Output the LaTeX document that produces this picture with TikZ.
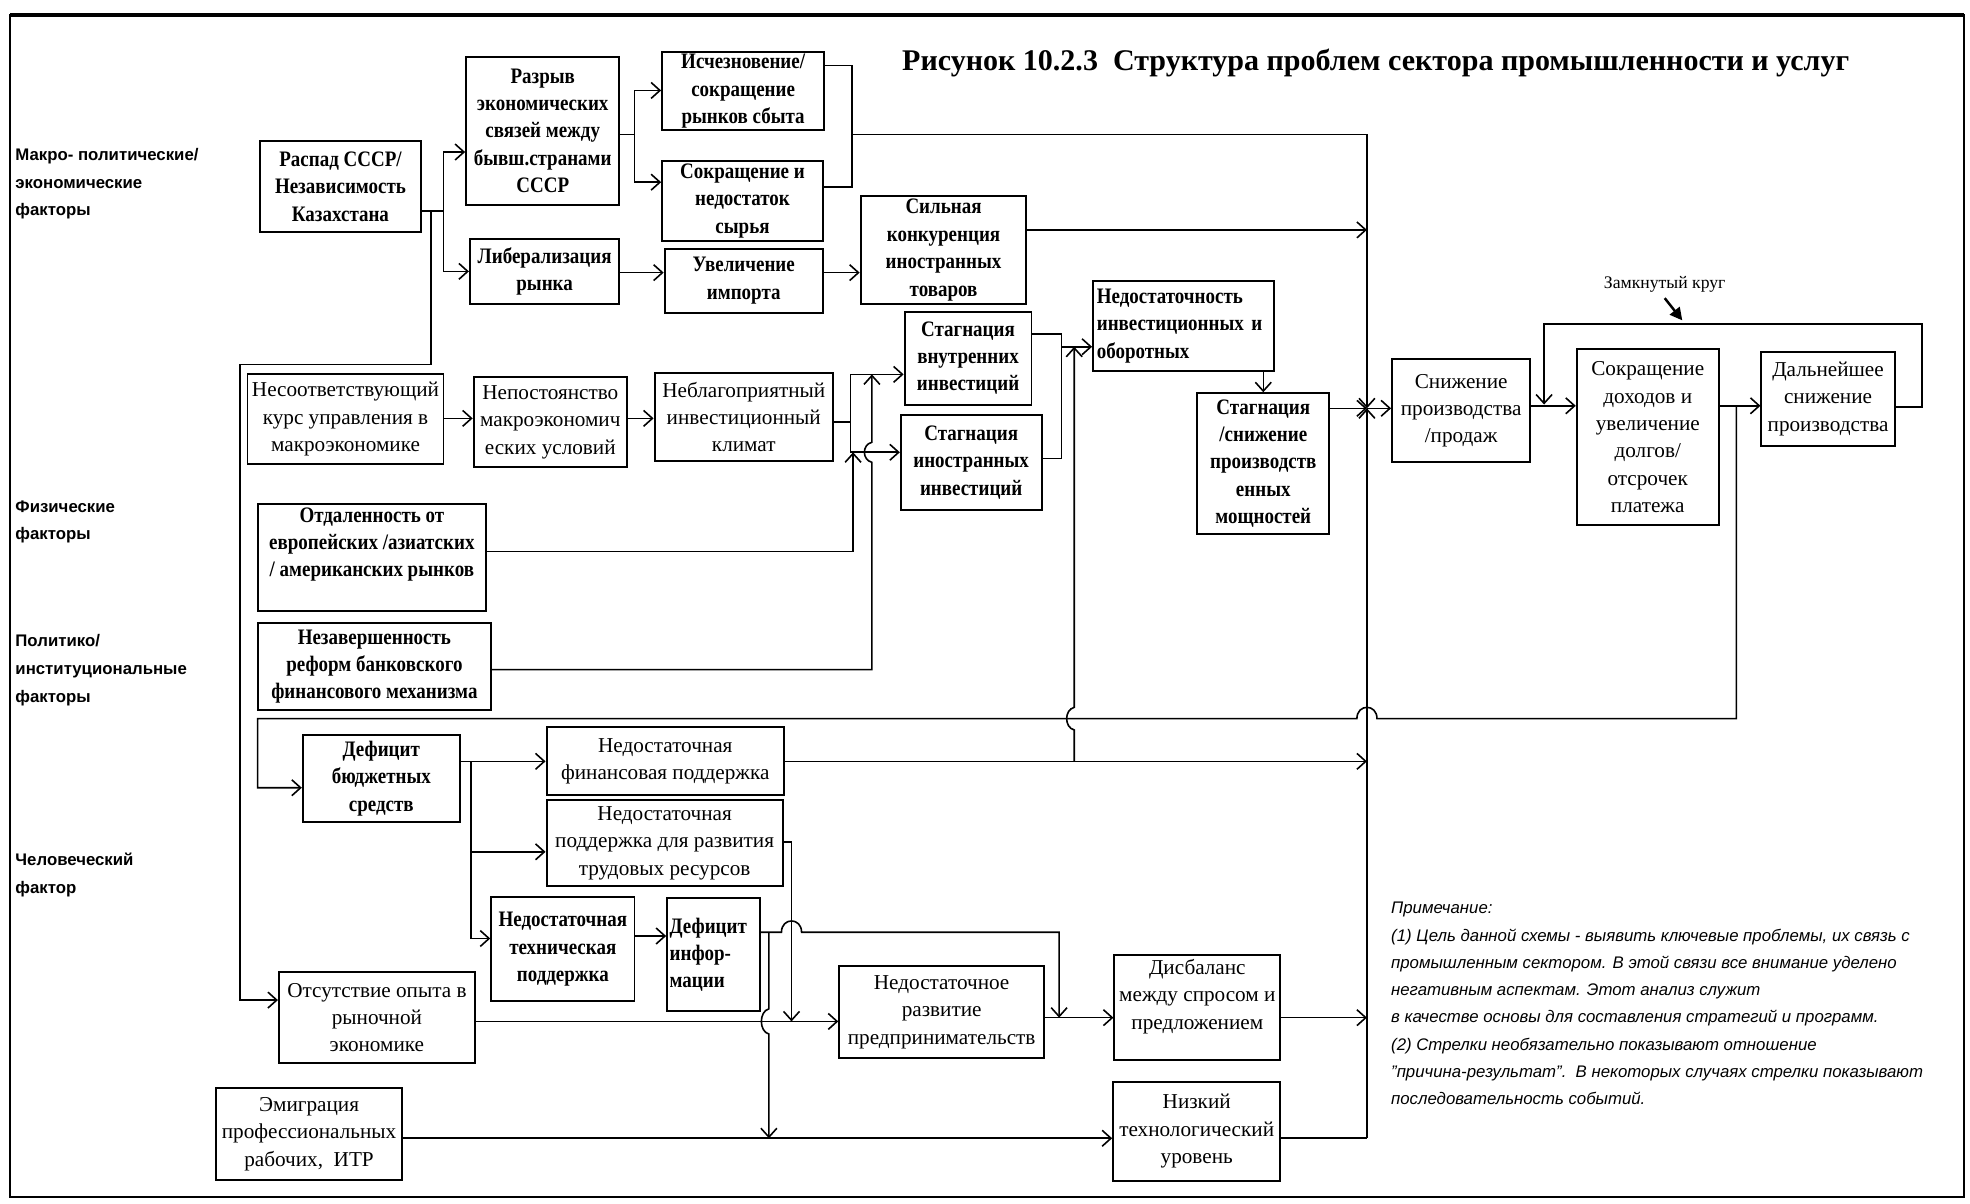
\documentclass[tikz,border=0pt]{standalone}
\usepackage{fontspec}
\setmainfont{Liberation Serif}
\setsansfont{Liberation Sans}
\newfontfamily\narrowserif{Liberation Serif}[FakeStretch=0.86]
\usetikzlibrary{arrows.meta,positioning,calc}

\begin{document}
\begin{tikzpicture}[x=0.025cm,y=-0.025cm,
    box/.style={draw,line width=1.1pt,inner sep=1pt,align=center,
      font=\narrowserif\fontsize{12.5}{15.5}\selectfont\bfseries},
    boxr/.style={box,font=\fontsize{12}{15.5}\selectfont},
    sz/.style 2 args={minimum width=#1*0.025cm,minimum height=#2*0.025cm},
    line/.style={line width=0.9pt},
    >={Straight Barb[length=5pt,width=9pt]},
    sidelbl/.style={anchor=north west,align=left,inner sep=0pt,
      font=\sffamily\bfseries\fontsize{9.5}{15.6}\selectfont}]
	\useasboundingbox (0,0) rectangle (1568,958);
	\draw[line width=1.3pt] (8,12) rectangle (1563,953);
	\draw[line width=2pt] (8,12) -- (1563,12);

	\node[font=\bfseries\fontsize{17}{20}\selectfont] (title) at (1095,50)
		{Рисунок 10.2.3\ \ Структура проблем сектора промышленности и услуг};

	% side labels
	\node[sidelbl] (lmakro) at (12,118) {Макро- политические/\\экономические\\факторы};
	\node[sidelbl] (lfiz) at (12,398) {Физические\\факторы};
	\node[sidelbl] (lpolit) at (12,505) {Политико/\\институциональные\\факторы};
	\node[sidelbl] (lchel) at (12,679) {Человеческий\\фактор};

	% boxes
	\node[box, sz={128}{73}] (raspad) at (271,148.5) {Распад СССР/\\Независимость\\Казахстана};
	\node[box, sz={122}{118}] (razryv) at (432,104) {Разрыв\\экономических\\связей между\\бывш.странами\\СССР};
	\node[box, sz={129}{61}] (ischez) at (591.5,72.5) {Исчезновение/\\сокращение\\рынков сбыта};
	\node[box, sz={128}{64}] (syrie) at (591,160) {Сокращение и\\недостаток\\сырья};
	\node[box, sz={119}{52}] (liber) at (433.5,216) {Либерализация\\рынка};
	\node[box, sz={126}{51}] (import) at (592,223.5) {Увеличение\\импорта};
	\node[box, sz={132}{86}] (konkur) at (751,199) {Сильная\\конкуренция\\иностранных\\товаров};
	\node[box, sz={101}{74}] (stagvn) at (770.5,285) {Стагнация\\внутренних\\инвестиций};
	\node[box, sz={112}{76}] (stagin) at (773,368) {Стагнация\\иностранных\\инвестиций};
	\node[box, sz={144}{71}, text width=138*0.025cm, align=left] (nedinv) at (942,259.5) {Недостаточность\\инвестиционных и\\оборотных};
	\node[box, sz={105}{112}] (stagpr) at (1005.5,369) {Стагнация\\/снижение\\производств\\енных\\мощностей};
	\node[boxr, sz={110}{82}] (snizh) at (1163,327) {Снижение\\производства\\/продаж};
	\node[boxr, sz={113}{140}] (sokr) at (1311.5,348) {Сокращение\\доходов и\\увеличение\\долгов/\\отсрочек\\платежа};
	\node[boxr, sz={106}{75}] (daln) at (1455,317.5) {Дальнейшее\\снижение\\производства};
	\node[boxr, sz={156}{71}] (nesoot) at (275,333.5) {Несоответствующий\\курс управления в\\макроэкономике};
	\node[boxr, sz={122}{72}] (nepost) at (438,336) {Непостоянство\\макроэкономич\\еских условий};
	\node[boxr, sz={142}{70}] (neblag) at (592,332) {Неблагоприятный\\инвестиционный\\климат};
	\node[box, sz={182}{85}, text depth=17pt] (otdal) at (296,443.5) {Отдаленность от\\европейских /азиатских\\/ американских рынков};
	\node[box, sz={186}{69}] (nezav) at (298,530.5) {Незавершенность\\реформ банковского\\финансового механизма};
	\node[box, sz={125}{69}] (defbud) at (303.5,619.5) {Дефицит\\бюджетных\\средств};
	\node[boxr, sz={189}{54}] (nedfin) at (529.5,606) {Недостаточная\\финансовая поддержка};
	\node[boxr, sz={188}{68}] (nedtrud) at (529,671) {Недостаточная\\поддержка для развития\\трудовых ресурсов};
	\node[box, sz={114}{83}] (nedteh) at (448,755.5) {Недостаточная\\техническая\\поддержка};
	\node[box, sz={74}{90}, text width=70*0.025cm, align=left] (definf) at (568,760) {Дефицит\\инфор-\\мации};
	\node[boxr, sz={156}{72}] (otsut) at (300,810) {Отсутствие опыта в\\рыночной\\экономике};
	\node[boxr, sz={163}{73}] (nedpred) at (749.5,805.5) {Недостаточное\\развитие\\предпринимательств};
	\node[boxr, sz={132}{84}, text depth=15pt] (disbal) at (953,802) {Дисбаланс\\между спросом и\\предложением};
	\node[boxr, sz={148}{73}] (emigr) at (246,902.5) {Эмиграция\\профессиональных\\рабочих,\ \ ИТР};
	\node[boxr, sz={133}{79}] (nizk) at (952.5,900.5) {Низкий\\технологический\\уровень};

	\node[font=\fontsize{10}{12}\selectfont] (krug) at (1325,226) {Замкнутый круг};
	\coordinate (krugtip) at (1339,255);
	\draw[line width=1.4pt,-{Triangle[length=7pt,width=7pt]}] (krug.south) -- (krugtip);

	\node[anchor=north west,align=left,inner sep=0pt,
		font=\sffamily\itshape\fontsize{9.5}{15.4}\selectfont] (note) at (1107,718)
		{Примечание:\\
		(1) Цель данной схемы - выявить ключевые проблемы, их связь с\\
		промышленным сектором. В этой связи все внимание уделено\\
		негативным аспектам. Этот анализ служит\\
		в качестве основы для составления стратегий и программ.\\
		(2) Стрелки необязательно показывают отношение\\
		"причина-результат".\ \ В некоторых случаях стрелки показывают\\
		последовательность событий.};

	% junctions
	\coordinate (jc) at (1088,325);

	\begin{scope}[line]
		% macro factors
		\draw (raspad.east |- 0,168) -- (353,168);
		\draw[->] (353,168) |- (razryv.west |- 0,121);
		\draw[->] (353,168) |- (liber.west |- 0,216);
		\draw[->] (343,168) -- (343,290) -- (191,290) |- (otsut.west |- 0,796);
		\draw (razryv.east |- 0,107) -- (505,107);
		\draw[->] (505,107) |- (ischez.west |- 0,72);
		\draw[->] (505,107) |- (syrie.west |- 0,145);
		\draw (ischez.east |- 0,52) -| (678,149) -- (syrie.east |- 0,149);
		\draw (678,107) -- (1088,107);
		\draw[->] (1088,107) -- (jc);
		\draw[->] (konkur.east |- 0,183) -- (1088,183);
		\draw[->] (liber.east |- 0,217) -- (import.west |- 0,217);
		\draw[->] (import.east |- 0,217) -- (konkur.west |- 0,217);

		% investment
		\draw[->] (nesoot.east |- 0,333) -- (nepost.west |- 0,333);
		\draw[->] (nepost.east |- 0,333) -- (neblag.west |- 0,333);
		\draw (neblag.east |- 0,336) -- (677,336);
		\draw[->] (677,336) |- (stagvn.west |- 0,298);
		\draw[->] (677,336) |- (stagin.west |- 0,360);
		\draw[->] (otdal.east |- 0,439) -| (679,360);
		\draw[->] (nezav.east |- 0,533) -| (694,368) .. controls (686,366) and (686,354) .. (694,352) -- (694,298);
		\draw (stagvn.east |- 0,266) -| (845,365) -- (stagin.east |- 0,365);
		\draw[->] (845,276) -- (nedinv.west |- 0,276);
		\draw[->] (stagpr.north |- nedinv.south) -- (stagpr.north);
		\draw[->] (stagpr.east |- 0,325) -- (jc);
		\draw[->] (jc) -- (snizh.west |- jc);
		\draw[->] (1088,906) -- (jc);

		% vicious circle
		\draw[->] (snizh.east |- 0,323) -- (sokr.west |- 0,323);
		\draw[->] (sokr.east |- 0,323) -- (daln.west |- 0,323);
		\draw[->] (daln.east |- 0,324) -- (1530,324) -- (1530,258) -- (1229,258) -- (1229,322);
		\draw[->] (1382,323) -- (1382,572) -- (1096,572) .. controls (1096,560) and (1080,560) .. (1080,572)
			-- (205,572) |- (defbud.west |- 0,627);

		% budget and human factor
		\draw[->] (defbud.east |- 0,606) -- (nedfin.west |- 0,606);
		\draw[->] (375,606) |- (nedteh.west |- 0,747);
		\draw[->] (375,678) -- (nedtrud.west |- 0,678);
		\draw[->] (nedfin.east |- 0,606) -- (1088,606);
		\draw[->] (855,606) -- (855,581) .. controls (847,579) and (847,565) .. (855,563) -- (855,276);
		\draw[->] (nedtrud.east |- 0,670) -| (630,813);
		\draw[->] (nedteh.east |- 0,745) -- (definf.west |- 0,745);
		\draw[->] (definf.east |- 0,742) -- (622,742) .. controls (622,730) and (638,730) .. (638,742)
			-- (843,742) -- (843,810);
		\draw[->] (612,742) -- (612,803) .. controls (604,805) and (604,821) .. (612,823) -- (612,906);
		\draw[->] (otsut.east |- 0,813) -- (nedpred.west |- 0,813);
		\draw[->] (nedpred.east |- 0,810) -- (disbal.west |- 0,810);
		\draw[->] (disbal.east |- 0,810) -- (1088,810);
		\draw[->] (emigr.east |- 0,906) -- (nizk.west |- 0,906);
		\draw (nizk.east |- 0,906) -- (1088,906);
	\end{scope}
\end{tikzpicture}
\end{document}
